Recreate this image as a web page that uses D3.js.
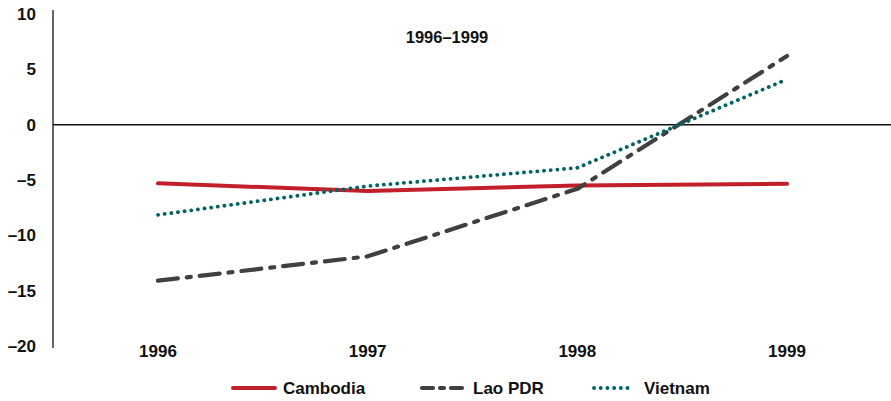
<!DOCTYPE html>
<html><head><meta charset="utf-8">
<script src="https://cdn.jsdelivr.net/npm/d3@7"></script>
<style>body{margin:0;background:#fff}svg{display:block}text{font-family:"Liberation Sans",Arial,sans-serif;font-weight:bold;fill:#111}</style>
</head><body>
<svg id="c" width="891" height="401"></svg>
<script>
const years = [1996, 1997, 1998, 1999];
const cambodia = [-5.3, -6.0, -5.5, -5.35];
const lao = [-14.1, -11.9, -5.8, 6.2];
const vietnam = [-8.15, -5.55, -3.9, 4.1];
const yTicks = [10, 5, 0, -5, -10, -15, -20];
const title = "1996–1999";

const svg = d3.select("#c");
const x = d3.scalePoint().domain(years).range([158, 787]);
const y = d3.scaleLinear().domain([-20, 10]).range([346, 14]);

// y axis line
svg.append("line").attr("x1",53).attr("x2",53).attr("y1",10).attr("y2",348)
  .attr("stroke","#333").attr("stroke-width",1.5);
// zero line
svg.append("line").attr("x1",53).attr("x2",891).attr("y1",y(0)).attr("y2",y(0))
  .attr("stroke","#111").attr("stroke-width",1.5);

svg.selectAll("text.yt").data(yTicks).enter().append("text")
  .attr("class","yt").attr("x",36).attr("y",d=>y(d)).attr("dy","0.36em")
  .attr("text-anchor","end").style("font-size","17px")
  .text(d=> d<0 ? "\u2013"+Math.abs(d) : d);

svg.selectAll("text.xt").data(years).enter().append("text")
  .attr("class","xt").attr("x",d=>x(d)).attr("y",357)
  .attr("text-anchor","middle").style("font-size","17px").text(d=>d);

svg.append("text").attr("x",447).attr("y",43).attr("text-anchor","middle")
  .style("font-size","16.5px").text(title);

const line = d3.line().x((d,i)=>x(years[i])).y(d=>y(d));
const series = [
  {name:"Cambodia", data:cambodia, color:"#C1202B", w:4, dash:null, cap:"round"},
  {name:"Lao PDR", data:lao, color:"#404040", w:4.2, dash:"20,9,4,9", cap:"round"},
  {name:"Vietnam", data:vietnam, color:"#006464", w:3.8, dash:"0.1,6.6", cap:"round"}
];
series.forEach(s=>{
  svg.append("path").attr("d",line(s.data)).attr("fill","none")
    .attr("stroke",s.color).attr("stroke-width",s.w)
    .attr("stroke-dasharray",s.dash).attr("stroke-linecap",s.cap)
    .attr("stroke-linejoin","round");
});

// legend
const leg = [
  {s:series[0], x1:233, x2:275, tx:283, dash:null},
  {s:series[1], x1:422, x2:462, tx:473, dash:"11,7,4,7,11"},
  {s:series[2], x1:594, x2:629, tx:644, dash:"0.1,6.6"}
];
leg.forEach(l=>{
  svg.append("line").attr("x1",l.x1).attr("x2",l.x2).attr("y1",388).attr("y2",388)
    .attr("stroke",l.s.color).attr("stroke-width",l.s.w)
    .attr("stroke-dasharray",l.dash).attr("stroke-linecap","round");
  svg.append("text").attr("x",l.tx).attr("y",388).attr("dy","0.36em")
    .style("font-size","17px").text(l.s.name);
});
</script>
</body></html>
